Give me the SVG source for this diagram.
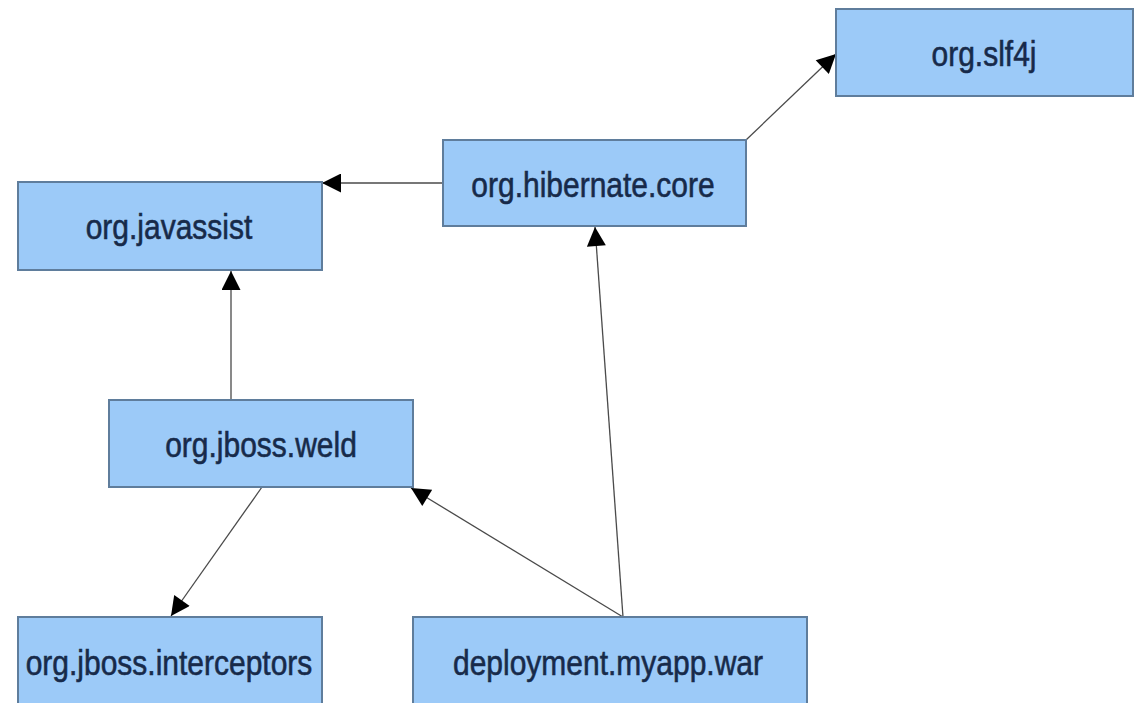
<svg xmlns="http://www.w3.org/2000/svg" width="1139" height="703" viewBox="0 0 1139 703">
<style>
.box{fill:#9ccaf8;stroke:#5f7d9c;stroke-width:2}
.lbl{font-family:"Liberation Sans",Arial,sans-serif;font-size:30px;fill:#172a4a;stroke:#172a4a;stroke-width:0.5;text-anchor:middle}
.edge{stroke:#4a4a4a;stroke-width:1.3;fill:none}
</style>
<defs>
<marker id="arr" viewBox="0 0 10 10" refX="10" refY="5" markerWidth="22" markerHeight="19" markerUnits="userSpaceOnUse" orient="auto">
<path d="M0,0 L10,5 L0,10 z" fill="#000"/>
</marker>
</defs>
<rect width="1139" height="703" fill="#ffffff"/>
<g id="connectors">
<line class="edge" x1="443" y1="183" x2="322" y2="183" marker-end="url(#arr)"/>
<line class="edge" x1="746" y1="140" x2="836" y2="54" marker-end="url(#arr)"/>
<line class="edge" x1="231" y1="400" x2="231" y2="271" marker-end="url(#arr)"/>
<line class="edge" x1="262" y1="487" x2="171" y2="616" marker-end="url(#arr)"/>
<line class="edge" x1="623" y1="617" x2="411" y2="488" marker-end="url(#arr)"/>
<line class="edge" x1="623" y1="617" x2="595" y2="227" marker-end="url(#arr)"/>
</g>
<g id="n-slf4j">
<rect class="box" x="836" y="9" width="297" height="87"/>
<text class="lbl" transform="translate(984,66) scale(1,1.15)">org.slf4j</text>
</g>
<g id="n-hibernate">
<rect class="box" x="443" y="140" width="303" height="86"/>
<text class="lbl" transform="translate(593,197) scale(1,1.15)">org.hibernate.core</text>
</g>
<g id="n-javassist">
<rect class="box" x="18" y="182" width="304" height="88"/>
<text class="lbl" transform="translate(169,239) scale(1,1.15)">org.javassist</text>
</g>
<g id="n-weld">
<rect class="box" x="109" y="400" width="304" height="87"/>
<text class="lbl" transform="translate(261,457) scale(1,1.15)">org.jboss.weld</text>
</g>
<g id="n-interceptors">
<rect class="box" x="18" y="617" width="304" height="88"/>
<text class="lbl" transform="translate(169,675) scale(1,1.15)">org.jboss.interceptors</text>
</g>
<g id="n-war">
<rect class="box" x="413" y="617" width="394" height="88"/>
<text class="lbl" transform="translate(608,675) scale(1,1.15)">deployment.myapp.war</text>
</g>
</svg>
